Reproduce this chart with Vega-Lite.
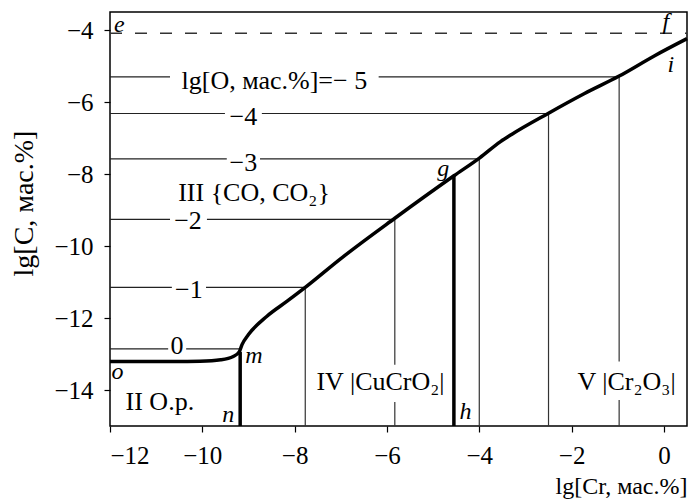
{
  "$schema": "https://vega.github.io/schema/vega-lite/v6.json",
  "width": 577,
  "height": 414,
  "autosize": {"type": "none"},
  "padding": {"left": 110, "top": 12, "right": 1, "bottom": 73},
  "background": "white",
  "config": {
    "font": "Liberation Serif",
    "view": {"stroke": "black", "strokeWidth": 1.5},
    "axis": {
      "grid": false, "domain": false, "ticks": true, "tickColor": "black", "tickSize": 6, "tickWidth": 1.2,
      "labelFont": "Liberation Serif", "labelFontSize": 25, "labelColor": "black", "labelPadding": 11,
      "titleFont": "Liberation Serif", "titleFontWeight": "normal", "titleColor": "black"
    }
  },
  "datasets": {
    "curve": [
      {"x": -12, "y": -13.21}, {"x": -10.6, "y": -13.21}, {"x": -10.05, "y": -13.2}, {"x": -9.6, "y": -13.16},
      {"x": -9.33, "y": -13.07}, {"x": -9.2, "y": -12.94}, {"x": -9.14, "y": -12.74}, {"x": -9.0, "y": -12.46},
      {"x": -8.6, "y": -11.95}, {"x": -8.17, "y": -11.54}, {"x": -7.77, "y": -11.15}, {"x": -7.0, "y": -10.35},
      {"x": -5.83, "y": -9.23}, {"x": -4.55, "y": -8.05}, {"x": -3.99, "y": -7.55}, {"x": -3.54, "y": -7.1},
      {"x": -3.3, "y": -6.9}, {"x": -2.5, "y": -6.31}, {"x": -1.73, "y": -5.77}, {"x": -0.97, "y": -5.28},
      {"x": -0.21, "y": -4.72}, {"x": 0.5, "y": -4.24}
    ],
    "hseg": [
      {"x": -12, "x2": -10.74, "y": -12.86}, {"x": -10.35, "x2": -9.18, "y": -12.86},
      {"x": -12, "x2": -10.66, "y": -11.15}, {"x": -9.92, "x2": -7.77, "y": -11.15},
      {"x": -12, "x2": -10.7, "y": -9.26}, {"x": -9.9, "x2": -5.83, "y": -9.26},
      {"x": -12, "x2": -9.47, "y": -7.58}, {"x": -8.75, "x2": -4.0, "y": -7.58},
      {"x": -12, "x2": -9.51, "y": -6.32}, {"x": -8.71, "x2": -2.5, "y": -6.32},
      {"x": -12, "x2": -10.7, "y": -5.3}, {"x": -6.18, "x2": -0.97, "y": -5.3}
    ],
    "vseg": [
      {"x": -7.77, "y": -11.15, "y2": -15},
      {"x": -5.83, "y": -9.26, "y2": -13.3}, {"x": -5.83, "y": -14.33, "y2": -15},
      {"x": -4.0, "y": -7.58, "y2": -15},
      {"x": -2.5, "y": -6.32, "y2": -15},
      {"x": -0.97, "y": -5.3, "y2": -13.21}, {"x": -0.97, "y": -14.28, "y2": -15}
    ],
    "thick": [
      {"x": -9.18, "y": -12.94, "y2": -15},
      {"x": -4.55, "y": -8.05, "y2": -15}
    ],
    "dash": [{"x": -12, "x2": 0.5, "y": -4.09}],
    "labels": [
      {"x": -8.44, "y": -5.41, "t": "lg[O, мас.%]=− 5"},
      {"x": -9.11, "y": -6.43, "t": "−4"},
      {"x": -9.11, "y": -7.69, "t": "−3"},
      {"x": -8.88, "y": -8.54, "t": "III {CO, CO₂}"},
      {"x": -10.31, "y": -9.31, "t": "−2"},
      {"x": -10.29, "y": -11.21, "t": "−1"},
      {"x": -10.55, "y": -12.77, "t": "0"},
      {"x": -10.92, "y": -14.33, "t": "II O.p."},
      {"x": -6.14, "y": -13.78, "t": "IV |CuCrO₂|"},
      {"x": -0.81, "y": -13.78, "t": "V |Cr₂O₃|"}
    ],
    "letters": [
      {"x": -11.8, "y": -3.86, "t": "e"},
      {"x": 0.04, "y": -3.78, "t": "f"},
      {"x": 0.15, "y": -4.98, "t": "i"},
      {"x": -4.78, "y": -7.85, "t": "g"},
      {"x": -8.88, "y": -13.05, "t": "m"},
      {"x": -11.84, "y": -13.51, "t": "o"},
      {"x": -9.44, "y": -14.7, "t": "n"},
      {"x": -4.3, "y": -14.6, "t": "h"}
    ]
  },
  "layer": [
    {
      "data": {"name": "dash"},
      "mark": {"type": "rule", "strokeDash": [12, 13], "color": "#333", "strokeWidth": 1.5},
      "encoding": {
        "x": {"field": "x", "type": "quantitative", "scale": {"domain": [-12, 0.5], "nice": false, "zero": false},
          "axis": {"values": [-12, -10, -8, -6, -4, -2, 0], "labelFont": "Liberation Serif", "title": "lg[Cr, мас.%]", "titleFont": "Liberation Serif", "titleFontSize": 24, "titleAnchor": "end", "titleAlign": "right", "titleX": 577, "titleY": 67, "titleBaseline": "alphabetic"}},
        "x2": {"field": "x2"},
        "y": {"field": "y", "type": "quantitative", "scale": {"domain": [-15, -3.5], "nice": false, "zero": false},
          "axis": {"values": [-14, -12, -10, -8, -6, -4], "labelFont": "Liberation Serif", "title": "lg[C, мас.%]", "titleFont": "Liberation Serif", "titleFontSize": 28, "titleAngle": -90, "titleAlign": "center", "titleX": -78, "titleY": 191, "titleBaseline": "alphabetic"}}
      }
    },
    {
      "data": {"name": "hseg"},
      "mark": {"type": "rule", "color": "#222", "strokeWidth": 1.2},
      "encoding": {
        "x": {"field": "x", "type": "quantitative"},
        "x2": {"field": "x2"},
        "y": {"field": "y", "type": "quantitative"}
      }
    },
    {
      "data": {"name": "vseg"},
      "mark": {"type": "rule", "color": "#333", "strokeWidth": 1.2},
      "encoding": {
        "x": {"field": "x", "type": "quantitative"},
        "y": {"field": "y", "type": "quantitative"},
        "y2": {"field": "y2"}
      }
    },
    {
      "data": {"name": "curve"},
      "mark": {"type": "line", "color": "black", "strokeWidth": 3.5, "strokeJoin": "round", "interpolate": "monotone"},
      "encoding": {
        "x": {"field": "x", "type": "quantitative"},
        "y": {"field": "y", "type": "quantitative"}
      }
    },
    {
      "data": {"name": "thick"},
      "mark": {"type": "rule", "color": "black", "strokeWidth": 3.5},
      "encoding": {
        "x": {"field": "x", "type": "quantitative"},
        "y": {"field": "y", "type": "quantitative"},
        "y2": {"field": "y2"}
      }
    },
    {
      "data": {"name": "labels"},
      "mark": {"type": "text", "font": "Liberation Serif", "fontSize": 26, "color": "black", "baseline": "middle", "align": "center"},
      "encoding": {
        "x": {"field": "x", "type": "quantitative"},
        "y": {"field": "y", "type": "quantitative"},
        "text": {"field": "t"}
      }
    },
    {
      "data": {"name": "letters"},
      "mark": {"type": "text", "font": "Liberation Serif", "fontSize": 24, "fontStyle": "italic", "color": "black", "baseline": "middle", "align": "center"},
      "encoding": {
        "x": {"field": "x", "type": "quantitative"},
        "y": {"field": "y", "type": "quantitative"},
        "text": {"field": "t"}
      }
    }
  ]
}
